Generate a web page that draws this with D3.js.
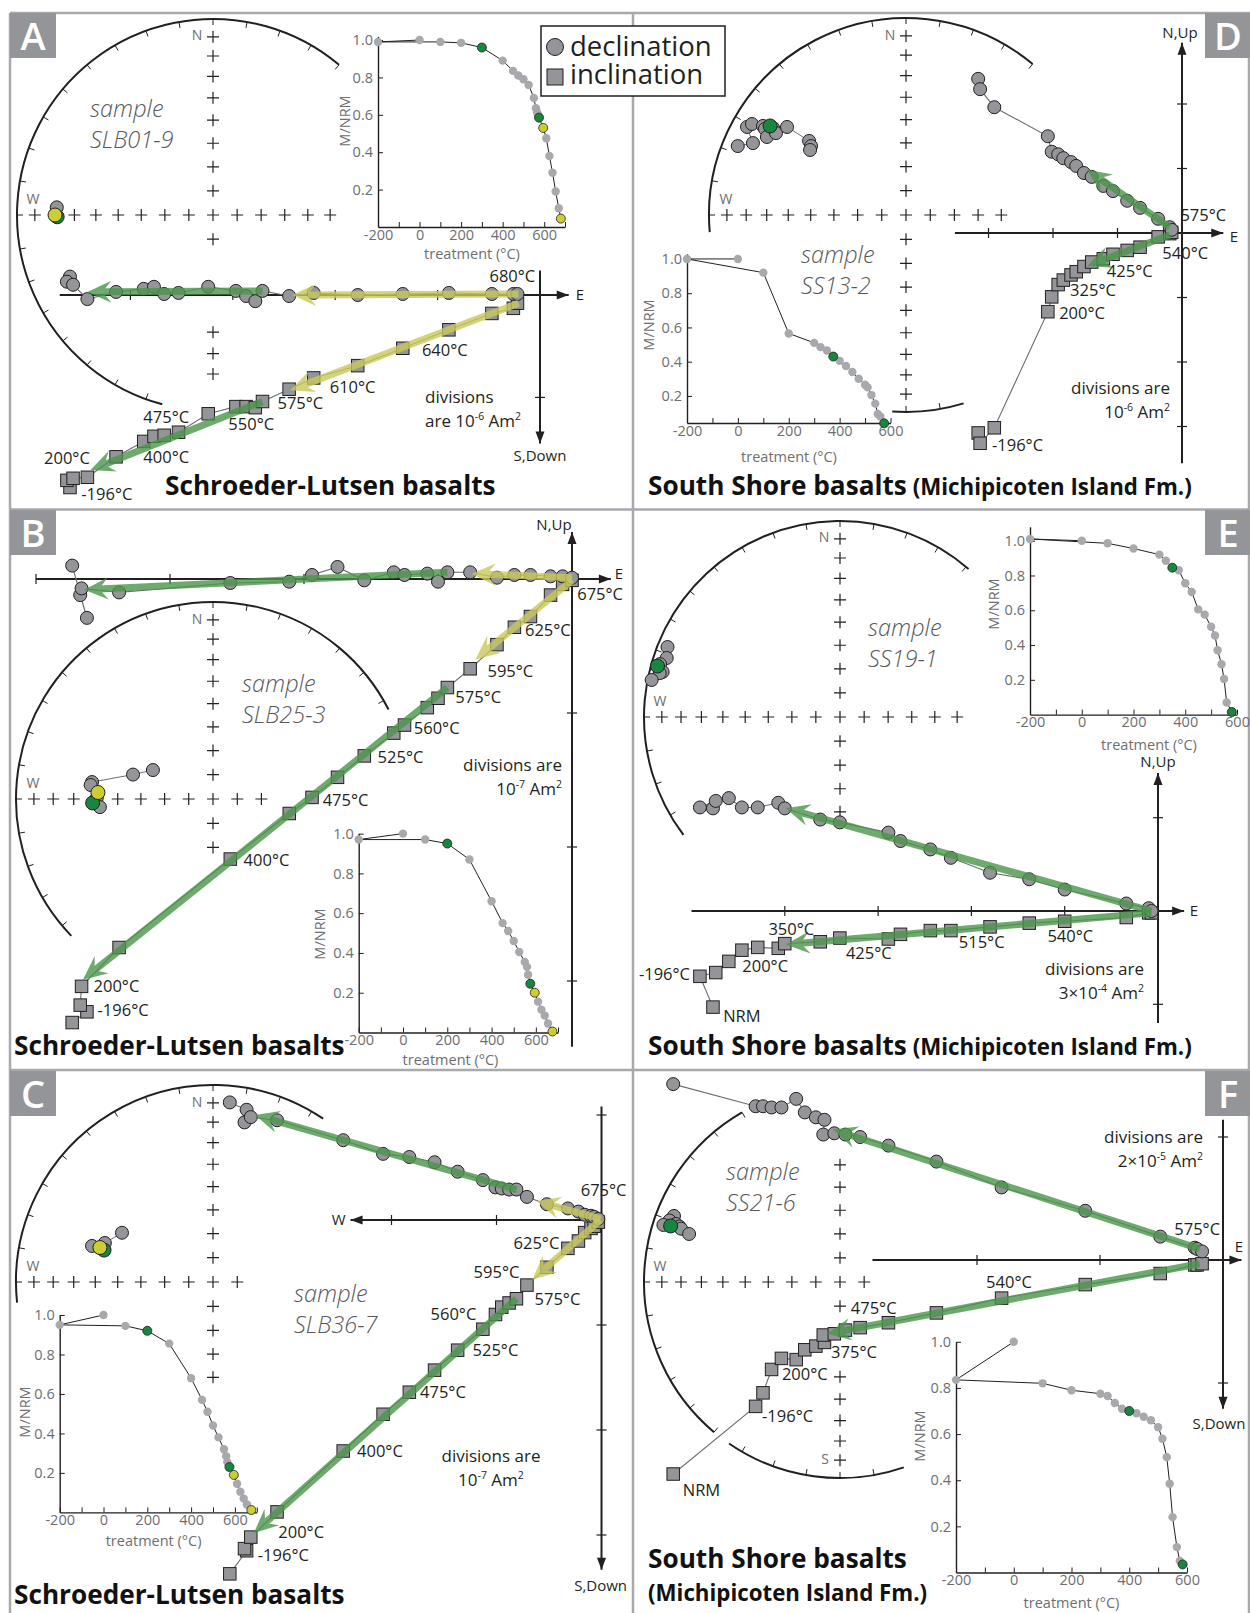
<!DOCTYPE html>
<html>
<head>
<meta charset="utf-8">
<script src="https://cdn.jsdelivr.net/npm/d3@7/dist/d3.min.js"></script>
<style>
  body { margin: 0; background: #fff; }
  svg { display: block; }
  text { font-family: "Open Sans", Lato, "DejaVu Sans", sans-serif; }
</style>
</head>
<body>
<svg id="fig" width="1250" height="1613"></svg>
<script>
// ---------- demagnetization curves (treatment °C, M/NRM) ----------
const iA_T = [0, -200, 100, 200, 300, 400, 450, 475, 500, 525, 550, 560, 565, 570, 575, 595, 610, 625, 640, 655, 670, 680];
const iA_M = [1.0, 0.99, 0.99, 0.985, 0.96, 0.89, 0.835, 0.81, 0.79, 0.76, 0.69, 0.635, 0.615, 0.6, 0.585, 0.53, 0.475, 0.38, 0.29, 0.19, 0.10, 0.045];
const iA_g = [300, 575], iA_y = [595, 680];

const iB_T = [0, -200, 100, 200, 300, 400, 450, 475, 500, 525, 550, 560, 565, 575, 595, 610, 625, 640, 655, 675];
const iB_M = [1.0, 0.97, 0.97, 0.95, 0.87, 0.66, 0.55, 0.51, 0.46, 0.405, 0.355, 0.33, 0.29, 0.245, 0.20, 0.155, 0.115, 0.085, 0.045, 0.005];
const iB_g = [200, 575], iB_y = [595, 675];

const iC_T = [0, -200, 100, 200, 300, 400, 450, 475, 500, 525, 550, 560, 565, 575, 595, 610, 625, 640, 655, 675];
const iC_M = [1.0, 0.95, 0.945, 0.92, 0.855, 0.68, 0.57, 0.51, 0.44, 0.38, 0.32, 0.285, 0.255, 0.23, 0.19, 0.145, 0.105, 0.07, 0.04, 0.012];
const iC_g = [200, 575], iC_y = [595, 675];

const iD_T = [0, -200, 100, 200, 300, 325, 350, 375, 400, 425, 450, 475, 500, 510, 525, 540, 550, 560, 575];
const iD_M = [1.0, 1.0, 0.92, 0.565, 0.51, 0.485, 0.465, 0.43, 0.405, 0.375, 0.34, 0.30, 0.265, 0.25, 0.205, 0.155, 0.095, 0.08, 0.04];
const iD_g = [375, 575], iD_y = [];

const iE_T = [0, -200, 100, 200, 300, 325, 350, 375, 400, 425, 450, 475, 500, 515, 525, 540, 550, 560, 580];
const iE_M = [1.0, 1.01, 0.985, 0.955, 0.92, 0.885, 0.845, 0.83, 0.755, 0.705, 0.605, 0.575, 0.505, 0.455, 0.37, 0.29, 0.205, 0.07, 0.015];
const iE_g = [350, 580], iE_y = [];

const iF_T = [0, -200, 100, 200, 300, 325, 350, 375, 400, 425, 450, 475, 500, 515, 530, 540, 550, 565, 575, 585];
const iF_M = [1.0, 0.835, 0.82, 0.79, 0.775, 0.765, 0.735, 0.71, 0.70, 0.69, 0.675, 0.66, 0.63, 0.58, 0.50, 0.385, 0.24, 0.11, 0.05, 0.035];
const iF_g = [400, 585], iF_y = [];

// ---------- orthogonal vector components (in divisions): east, north, down ----------
const zA_e = [-4.59, -4.62, -4.56, -4.42, -4.14, -3.87, -3.77, -3.67, -3.53, -3.24, -2.97, -2.87, -2.78, -2.71, -2.45, -2.21, -1.78, -1.34, -0.89, -0.47, -0.26, -0.22];
const zA_n = [0.18, 0.13, 0.10, -0.04, 0.03, 0.06, 0.08, 0.01, 0.02, 0.08, 0.04, -0.01, -0.06, 0.04, -0.01, 0.02, 0.00, 0.01, 0.02, 0.01, 0.01, 0.01];
const zA_d = [1.88, 1.81, 1.79, 1.78, 1.58, 1.43, 1.38, 1.37, 1.34, 1.16, 1.09, 1.09, 1.10, 1.04, 0.92, 0.81, 0.69, 0.52, 0.34, 0.18, 0.13, 0.08];

const zB_e = [-3.73, -3.62, -3.67, -3.66, -3.38, -2.55, -2.11, -1.94, -1.75, -1.55, -1.33, -1.25, -1.08, -1.00, -0.93, -0.76, -0.56, -0.43, -0.31, -0.16, -0.07, 0.00];
const zB_n = [0.10, -0.29, -0.12, -0.07, -0.10, -0.03, -0.02, 0.03, 0.09, -0.01, 0.05, 0.03, 0.04, -0.02, 0.05, 0.05, 0.01, 0.03, 0.03, 0.02, 0.02, 0.01];
const zB_d = [3.31, 3.23, 3.18, 3.04, 2.75, 2.09, 1.75, 1.63, 1.48, 1.32, 1.15, 1.09, 0.96, 0.89, 0.81, 0.67, 0.49, 0.36, 0.28, 0.12, 0.04, 0.01];

const zC_e = [-3.54, -3.38, -3.40, -3.34, -3.09, -2.46, -2.08, -1.83, -1.59, -1.37, -1.13, -1.01, -0.95, -0.88, -0.81, -0.71, -0.52, -0.32, -0.22, -0.16, -0.10, -0.07, -0.03];
const zC_n = [1.12, 1.05, 0.93, 0.98, 0.95, 0.76, 0.63, 0.60, 0.55, 0.46, 0.38, 0.31, 0.30, 0.29, 0.29, 0.22, 0.15, 0.11, 0.08, 0.05, 0.04, 0.03, 0.01];
const zC_d = [3.37, 3.15, 3.13, 3.02, 2.78, 2.20, 1.85, 1.64, 1.43, 1.24, 1.04, 0.90, 0.83, 0.79, 0.75, 0.62, 0.45, 0.27, 0.20, 0.12, 0.08, 0.06, 0.02];

const zD_e = [-3.16, -3.13, -2.91, -2.08, -2.02, -1.92, -1.84, -1.72, -1.64, -1.52, -1.40, -1.22, -1.07, -0.85, -0.65, -0.37, -0.19, -0.16];
const zD_n = [2.39, 2.23, 1.95, 1.50, 1.26, 1.22, 1.16, 1.10, 1.04, 0.93, 0.87, 0.73, 0.65, 0.50, 0.39, 0.22, 0.09, 0.05];
const zD_d = [3.10, 3.26, 3.02, 1.22, 0.99, 0.80, 0.73, 0.65, 0.60, 0.52, 0.45, 0.40, 0.33, 0.27, 0.22, 0.06, 0.01, -0.01];

const zE_e = [-4.77, -4.91, -4.74, -4.60, -4.46, -4.29, -4.07, -4.00, -3.62, -3.41, -2.89, -2.76, -2.44, -2.22, -1.80, -1.38, -1.00, -0.34, -0.10, -0.07];
const zE_n = [1.10, 1.11, 1.18, 1.21, 1.11, 1.11, 1.16, 1.10, 0.98, 0.95, 0.84, 0.75, 0.66, 0.57, 0.41, 0.34, 0.23, 0.08, 0.03, 0.00];
const zE_d = [1.03, 0.70, 0.66, 0.54, 0.42, 0.39, 0.40, 0.35, 0.33, 0.29, 0.30, 0.25, 0.21, 0.21, 0.17, 0.13, 0.11, 0.07, 0.02, 0.02];

const zF_e = [-4.47, -3.80, -3.74, -3.67, -3.59, -3.47, -3.40, -3.31, -3.24, -3.25, -3.16, -3.07, -2.95, -2.72, -2.33, -1.80, -1.12, -0.51, -0.23, -0.21, -0.17];
const zF_n = [1.43, 1.25, 1.25, 1.24, 1.24, 1.31, 1.20, 1.16, 1.14, 1.02, 1.03, 1.02, 1.00, 0.93, 0.80, 0.59, 0.40, 0.19, 0.10, 0.09, 0.07];
const zF_d = [1.74, 1.19, 1.08, 0.89, 0.80, 0.81, 0.73, 0.70, 0.67, 0.61, 0.60, 0.57, 0.55, 0.51, 0.43, 0.31, 0.20, 0.11, 0.04, 0.04, 0.03];

// ---------- fitted components: colour, projection, from (E, N|D), to (E, N|D) ----------
const fA = [["y", "h", -0.21, 0.01, -2.42, 0.00], ["g", "h", -2.71, 0.04, -4.42, 0.03], ["y", "v", -0.21, 0.08, -2.44, 0.93], ["g", "v", -2.71, 1.04, -4.39, 1.71]];
const fB = [["y", "h", 0.00, 0.01, -0.75, 0.04], ["g", "h", -0.93, 0.05, -3.64, -0.08], ["y", "v", 0.00, 0.01, -0.72, 0.60], ["g", "v", -0.93, 0.81, -3.65, 2.99]];
const fC = [["y", "h", -0.01, 0.01, -0.62, 0.18], ["g", "h", -0.81, 0.29, -3.30, 1.00], ["y", "v", -0.01, 0.00, -0.66, 0.57], ["g", "v", -0.81, 0.75, -3.31, 2.98]];
const fD = [["g", "h", -0.19, 0.09, -1.47, 0.98], ["g", "v", -0.19, 0.03, -1.47, 0.51]];
const fE = [["g", "h", -0.07, 0.00, -3.99, 1.10], ["g", "v", -0.07, 0.02, -3.99, 0.36]];
const fF = [["g", "h", -0.19, 0.09, -3.17, 1.06], ["g", "v", -0.19, 0.03, -3.22, 0.60]];

// ---------- equal-area directions (east, north on unit net), colour ----------
const sA_e = [-0.797, -0.795, -0.806], sA_n = [0.039, -0.009, 0.0], sA_c = ["k", "g", "y"];
const sB_e = [-0.305, -0.406, -0.614, -0.621, -0.590, -0.574, -0.611, -0.584];
const sB_n = [0.147, 0.124, 0.086, 0.071, 0.005, -0.041, -0.020, 0.033];
const sB_c = ["k", "k", "k", "k", "k", "k", "g", "y"];
const sC_e = [-0.462, -0.549, -0.614, -0.553, -0.574], sC_n = [0.250, 0.198, 0.183, 0.162, 0.175], sC_c = ["k", "k", "k", "g", "y"];
const sD_e = [-0.854, -0.777, -0.807, -0.782, -0.726, -0.716, -0.706, -0.675, -0.660, -0.690, -0.604, -0.492, -0.482, -0.487];
const sD_n = [0.350, 0.365, 0.447, 0.462, 0.452, 0.437, 0.396, 0.442, 0.416, 0.452, 0.447, 0.376, 0.350, 0.330];
const sD_c = ["k", "k", "k", "k", "k", "k", "k", "k", "k", "g", "k", "k", "k", "k"];
const sE_e = [-0.880, -0.884, -0.918, -0.905, -0.920, -0.961, -0.931], sE_n = [0.357, 0.301, 0.270, 0.230, 0.224, 0.189, 0.260];
const sE_c = ["k", "k", "k", "k", "k", "k", "g"];
const sF_e = [-0.847, -0.870, -0.901, -0.837, -0.820, -0.811, -0.770, -0.864], sF_n = [0.337, 0.314, 0.291, 0.296, 0.283, 0.272, 0.245, 0.286];
const sF_c = ["k", "k", "k", "k", "k", "k", "k", "g"];

// ---------- layout ----------
const all10 = [10, 20, 30, 40, 50, 60, 70, 80];
const ncA = {cx: 213, cy: 215, r: 196, arcs: [[195, 400]], n: all10, s: [80, 40, 30, 20], w: all10, e: [80, 70, 60, 50, 40], N: true};
const ncB = {cx: 213, cy: 799, r: 197, arcs: [[226, 423]], n: all10, s: [80, 70], w: all10, e: [80, 70], N: true};
const ncC = {cx: 213, cy: 1282, r: 197, arcs: [[264, 394]], n: all10, s: [80, 70, 60, 50], w: all10, e: [80], N: true};
const ncD = {cx: 906, cy: 215, r: 197, arcs: [[265, 400], [163, 184]], n: all10, s: all10, w: all10, e: [80, 70, 60, 50], N: true};
const ncE = {cx: 840, cy: 717, r: 196, arcs: [[233, 401]], n: all10, s: [80, 70, 60, 50], w: all10, e: [80, 70, 60, 50, 40], N: true};
const ncF = {cx: 840, cy: 1282, r: 196, arcs: [[220, 330], [161, 214.5]], n: [40, 50, 60, 70, 80], s: [80, 50, 40, 30, 20, 10], w: all10, e: [80], N: false, S: true};

const zcA = {ox: 540, oy: 295, u: 102.4, h: [-4.69, 0.28], ha: "r", v: [0.24, 1.45], va: "d", ht: [-4, -3, -2, -1], tn: [], td: [1], lab: [["E", 580, 295], ["S,Down", 540, 456]]};
const zcB = {ox: 572, oy: 579, u: 134, h: [-4.0, 0.29], ha: "r", v: [0.35, 3.49], va: "u", ht: [-4, -3, -2, -1], tn: [], td: [1, 2, 3], lab: [["N,Up", 554, 525], ["E", 619, 574]]};
const zcC = {ox: 601.5, oy: 1220, u: 105, h: [-2.39, 0.01], ha: "l", v: [1.08, 3.33], va: "d", ht: [-2, -1], tn: [1], td: [1, 2, 3], lab: [["W", 338.6, 1220], ["S,Down", 600.6, 1586]]};
const zcD = {ox: 1182, oy: 233, u: 64.5, h: [-3.52, 0.64], ha: "r", v: [2.95, 3.57], va: "u", ht: [-3, -2, -1], tn: [1, 2], td: [1, 2, 3], lab: [["N,Up", 1180, 33], ["E", 1234, 237]]};
const zcE = {ox: 1158, oy: 911, u: 93.3, h: [-5.0, 0.28], ha: "r", v: [1.48, 1.20], va: "u", ht: [-4, -3, -2, -1], tn: [1], td: [1], lab: [["N,Up", 1158, 762], ["E", 1194, 911]]};
const zcF = {ox: 1223, oy: 1260, u: 123, h: [-2.85, 0.15], ha: "r", v: [1.14, 1.21], va: "d", ht: [-2, -1], tn: [1], td: [1], lab: [["E", 1239, 1247], ["S,Down", 1219, 1424]]};

// temperature annotations, placed in division units (E, down)
const lA = [["680°C", -0.27, -0.18], ["640°C", -0.93, 0.54], ["610°C", -1.83, 0.90], ["575°C", -2.34, 1.06], ["550°C", -2.82, 1.26], ["475°C", -3.65, 1.19], ["400°C", -3.65, 1.58], ["200°C", -4.62, 1.59], ["-196°C", -4.23, 1.95]];
const lB = [["675°C", 0.21, 0.11], ["625°C", -0.18, 0.38], ["595°C", -0.46, 0.69], ["575°C", -0.70, 0.88], ["560°C", -1.01, 1.11], ["525°C", -1.28, 1.33], ["475°C", -1.69, 1.65], ["400°C", -2.28, 2.10], ["200°C", -3.40, 3.04], ["-196°C", -3.35, 3.22]];
const lC = [["675°C", 0.02, -0.28], ["625°C", -0.62, 0.22], ["595°C", -1.00, 0.50], ["575°C", -0.42, 0.75], ["560°C", -1.41, 0.90], ["525°C", -1.01, 1.24], ["475°C", -1.51, 1.64], ["400°C", -2.11, 2.20], ["200°C", -2.86, 2.97], ["-196°C", -3.03, 3.19]];
const lD = [["575°C", 0.33, -0.27], ["540°C", 0.05, 0.31], ["425°C", -0.81, 0.60], ["325°C", -1.38, 0.89], ["200°C", -1.55, 1.25], ["-196°C", -2.55, 3.29]];
const lE = [["350°C", -3.93, 0.20], ["200°C", -4.21, 0.59], ["-196°C", -5.29, 0.68], ["NRM", -4.46, 1.13], ["425°C", -3.10, 0.45], ["515°C", -1.89, 0.33], ["540°C", -0.94, 0.27]];
const lF = [["575°C", -0.21, -0.25], ["540°C", -1.74, 0.18], ["475°C", -2.84, 0.39], ["375°C", -3.00, 0.75], ["200°C", -3.40, 0.93], ["-196°C", -3.54, 1.27], ["NRM", -4.24, 1.87]];

const icA = {xd: [-200, 700], xr: [378, 565], yd: [0, 1.02], yr: [227, 36.3], yl: [345, 121], xl: [472, 259]};
const icB = {xd: [-200, 700], xr: [358.7, 558], yd: [0, 1], yr: [1032.5, 833.6], yl: [320, 934], xl: [450.5, 1064.5]};
const icC = {xd: [-200, 700], xr: [59.7, 256.8], yd: [0, 1], yr: [1512.4, 1315], yl: [25, 1412], xl: [153.6, 1546]};
const icD = {xd: [-200, 600], xr: [687, 890.5], yd: [0.042, 1.03], yr: [423, 253.8], yl: [649, 325], xl: [789, 461.5]};
const icE = {xd: [-200, 600], xr: [1030, 1237], yd: [0, 1.08], yr: [714.6, 526.8], yl: [994, 604], xl: [1149, 749.5]};
const icF = {xd: [-200, 600], xr: [956, 1187], yd: [0, 1], yr: [1572.5, 1341.8], yl: [920, 1436], xl: [1071.5, 1608]};

const svg = d3.select("#fig");
const INK = "#231f20", GREY = "#939598", LIGHT = "#a7a9ac", MID = "#6d6e71";
const GREEN = "#17873f", YEL = "#cccc33";
const FIT = {g: "#4b964b", y: "#c9c95a"};
const PT = {k: GREY, g: GREEN, y: YEL};
const rad = d => d * Math.PI / 180;
const eqA = inc => Math.SQRT2 * Math.sin(rad((90 - inc) / 2));

// ---------- frame and panel letters ----------
[[10, 13, 1250, 13], [10, 509.5, 1250, 509.5], [10, 1070, 1250, 1070], [10, 13, 10, 1613], [633, 13, 633, 1613], [1249, 13, 1249, 1613]]
  .forEach(l => svg.append("line").attr("x1", l[0]).attr("y1", l[1]).attr("x2", l[2]).attr("y2", l[3])
    .attr("stroke", LIGHT).attr("stroke-width", 2.5));
[["A", 10, 13], ["B", 10, 510], ["C", 10, 1071], ["D", 1205, 13], ["E", 1205, 510], ["F", 1205, 1071]].forEach(p => {
  svg.append("rect").attr("x", p[1]).attr("y", p[2]).attr("width", 46).attr("height", 45).attr("fill", GREY);
  svg.append("text").attr("x", p[1] + 23).attr("y", p[2] + 37).attr("text-anchor", "middle")
    .attr("font-size", 38).attr("font-weight", 600).attr("fill", "#fff").text(p[0]);
});

function drawNet(S, E, N, C, joined) {
  const g = svg.append("g");
  const x = d3.scaleLinear().domain([-1, 1]).range([S.cx - S.r, S.cx + S.r]);
  const y = d3.scaleLinear().domain([-1, 1]).range([S.cy + S.r, S.cy - S.r]);
  S.arcs.forEach(([b0, b1]) => {
    const p = d3.path();
    p.moveTo(S.cx + S.r * Math.sin(rad(b0)), S.cy - S.r * Math.cos(rad(b0)));
    p.arc(S.cx, S.cy, S.r, rad(b0 - 90), rad(b1 - 90));
    g.append("path").attr("d", p.toString()).attr("fill", "none").attr("stroke", INK).attr("stroke-width", 2);
    for (let b = Math.ceil(b0 / 10) * 10; b <= b1; b += 10) {
      const s = Math.sin(rad(b)), c = Math.cos(rad(b));
      g.append("line").attr("x1", S.cx + S.r * s).attr("y1", S.cy - S.r * c)
        .attr("x2", S.cx + (S.r - 6) * s).attr("y2", S.cy - (S.r - 6) * c)
        .attr("stroke", INK).attr("stroke-width", 1);
    }
  });
  const cr = [[0, 0]];
  S.n.forEach(i => cr.push([0, eqA(i)]));
  S.s.forEach(i => cr.push([0, -eqA(i)]));
  S.w.forEach(i => cr.push([-eqA(i), 0]));
  S.e.forEach(i => cr.push([eqA(i), 0]));
  cr.forEach(([a, b]) => {
    const px = x(a), py = y(b);
    g.append("path").attr("d", `M${px - 6},${py}H${px + 6}M${px},${py - 6}V${py + 6}`)
      .attr("stroke", INK).attr("stroke-width", 1.2);
  });
  const lab = (t, px, py) => g.append("text").attr("x", px).attr("y", py).attr("dy", "0.35em")
    .attr("text-anchor", "middle").attr("font-size", 14).attr("fill", MID).text(t);
  if (S.N) lab("N", S.cx - 16, S.cy - 180);
  if (S.S) lab("S", S.cx - 15, S.cy + 177);
  lab("W", S.cx - 180, S.cy - 16);
  if (joined) {
    g.append("path").attr("d", d3.line()(E.map((e, i) => [x(e), y(N[i])])))
      .attr("fill", "none").attr("stroke", MID).attr("stroke-width", 1);
  }
  const idx = d3.range(E.length).sort((a, b) => "kgy".indexOf(C[a]) - "kgy".indexOf(C[b]));
  g.selectAll(".sp").data(idx).join("circle")
    .attr("cx", i => x(E[i])).attr("cy", i => y(N[i])).attr("r", i => C[i] === "k" ? 6.5 : 7)
    .attr("fill", i => PT[C[i]]).attr("stroke", INK).attr("stroke-width", 1);
}

function arrowTip(g, px, py, ang, len, hw, fill) {
  const c = Math.cos(ang), s = Math.sin(ang);
  const bx = px - len * c, by = py - len * s;
  g.append("path").attr("d", `M${px},${py}L${bx - hw * s},${by + hw * c}L${bx + hw * s},${by - hw * c}Z`).attr("fill", fill);
}

function drawZij(Z, E, N, D, fits, labs) {
  const g = svg.append("g");
  const x = d3.scaleLinear().domain([0, 1]).range([Z.ox, Z.ox + Z.u]);
  const yN = d3.scaleLinear().domain([0, 1]).range([Z.oy, Z.oy - Z.u]);
  const yD = d3.scaleLinear().domain([0, 1]).range([Z.oy, Z.oy + Z.u]);
  const ax = g.append("g").attr("stroke", INK).attr("stroke-width", 2);
  ax.append("line").attr("x1", x(Z.h[0])).attr("x2", x(Z.h[1])).attr("y1", Z.oy).attr("y2", Z.oy);
  ax.append("line").attr("x1", Z.ox).attr("x2", Z.ox).attr("y1", yN(Z.v[0])).attr("y2", yD(Z.v[1]));
  if (Z.ha === "r") arrowTip(g, x(Z.h[1]), Z.oy, 0, 12, 4.5, INK); else arrowTip(g, x(Z.h[0]), Z.oy, Math.PI, 12, 4.5, INK);
  if (Z.va === "u") arrowTip(g, Z.ox, yN(Z.v[0]), -Math.PI / 2, 12, 4.5, INK); else arrowTip(g, Z.ox, yD(Z.v[1]), Math.PI / 2, 12, 4.5, INK);
  const tk = g.append("g").attr("stroke", INK).attr("stroke-width", 1.2);
  Z.ht.forEach(e => tk.append("line").attr("x1", x(e)).attr("x2", x(e)).attr("y1", Z.oy - 5).attr("y2", Z.oy + 5));
  Z.tn.forEach(n => tk.append("line").attr("x1", Z.ox - 5).attr("x2", Z.ox + 5).attr("y1", yN(n)).attr("y2", yN(n)));
  Z.td.forEach(d => tk.append("line").attr("x1", Z.ox - 5).attr("x2", Z.ox + 5).attr("y1", yD(d)).attr("y2", yD(d)));
  Z.lab.forEach(l => g.append("text").attr("x", l[1]).attr("y", l[2]).attr("dy", "0.35em")
    .attr("text-anchor", "middle").attr("font-size", 15).attr("fill", INK).text(l[0]));

  const line = d3.line();
  g.append("path").attr("d", line(E.map((e, i) => [x(e), yD(D[i])])))
    .attr("fill", "none").attr("stroke", MID).attr("stroke-width", 1.1);
  g.append("path").attr("d", line(E.map((e, i) => [x(e), yN(N[i])])))
    .attr("fill", "none").attr("stroke", MID).attr("stroke-width", 1.1);
  g.selectAll(".sq").data(E).join("rect")
    .attr("x", (e) => x(e) - 6.25).attr("y", (e, i) => yD(D[i]) - 6.25).attr("width", 12.5).attr("height", 12.5)
    .attr("fill", GREY).attr("stroke", INK).attr("stroke-width", 1);
  g.selectAll(".ci").data(E).join("circle")
    .attr("cx", e => x(e)).attr("cy", (e, i) => yN(N[i])).attr("r", 6.5)
    .attr("fill", GREY).attr("stroke", INK).attr("stroke-width", 1);

  fits.forEach(f => {
    const yy = f[1] === "h" ? yN : yD;
    const x0 = x(f[2]), y0 = yy(f[3]), x1 = x(f[4]), y1 = yy(f[5]);
    const a = Math.atan2(y1 - y0, x1 - x0), c = Math.cos(a), s = Math.sin(a);
    const L = 24, W = 11, nb = 15;
    const gg = g.append("g").attr("opacity", 0.8);
    gg.append("line").attr("x1", x0).attr("y1", y0).attr("x2", x1 - nb * c).attr("y2", y1 - nb * s)
      .attr("stroke", FIT[f[0]]).attr("stroke-width", 7);
    const bx = x1 - L * c, by = y1 - L * s;
    gg.append("path").attr("d", `M${x1},${y1}L${bx - W * s},${by + W * c}L${x1 - nb * c},${y1 - nb * s}L${bx + W * s},${by - W * c}Z`)
      .attr("fill", FIT[f[0]]);
  });
  labs.forEach(l => g.append("text").attr("x", x(l[1])).attr("y", yD(l[2])).attr("dy", "0.35em")
    .attr("text-anchor", "middle").attr("font-size", 16.5).attr("fill", INK).text(l[0]));
}

function drawInset(I, T, M, gr, ye) {
  const g = svg.append("g");
  const x = d3.scaleLinear().domain(I.xd).range(I.xr);
  const y = d3.scaleLinear().domain(I.yd).range(I.yr);
  const xa = g.append("g").attr("transform", `translate(0,${I.yr[0]})`)
    .call(d3.axisBottom(x).tickValues(d3.range(I.xd[0], I.xd[1] + 1, 100))
      .tickFormat(d => d % 200 === 0 ? d : "").tickSizeInner(-5).tickSizeOuter(0).tickPadding(2.5));
  const ya = g.append("g").attr("transform", `translate(${I.xr[0]},0)`)
    .call(d3.axisLeft(y).tickValues([0.2, 0.4, 0.6, 0.8, 1.0]).tickFormat(d3.format(".1f"))
      .tickSizeInner(-5).tickSizeOuter(0).tickPadding(5));
  [xa, ya].forEach(a => {
    a.attr("font-family", null).attr("font-size", 14.5);
    a.select(".domain").attr("stroke", INK).attr("stroke-width", 1.4);
    a.selectAll(".tick line").attr("stroke", INK);
    a.selectAll(".tick text").attr("fill", MID);
  });
  g.append("text").attr("transform", `translate(${I.yl[0]},${I.yl[1]}) rotate(-90)`).attr("dy", "0.35em")
    .attr("text-anchor", "middle").attr("font-size", 14.5).attr("fill", MID).text("M/NRM");
  g.append("text").attr("x", I.xl[0]).attr("y", I.xl[1]).attr("text-anchor", "middle")
    .attr("font-size", 14.5).attr("fill", MID).text("treatment (°C)");
  g.append("path").attr("d", d3.line()(T.map((t, i) => [x(t), y(M[i])])))
    .attr("fill", "none").attr("stroke", INK).attr("stroke-width", 1);
  const col = t => gr.includes(t) ? GREEN : ye.includes(t) ? YEL : null;
  const idx = d3.range(T.length).sort((a, b) => (col(T[a]) ? 1 : 0) - (col(T[b]) ? 1 : 0));
  g.selectAll(".ip").data(idx).join("circle")
    .attr("cx", i => x(T[i])).attr("cy", i => y(M[i])).attr("r", i => col(T[i]) ? 4.5 : 4.2)
    .attr("fill", i => col(T[i]) || LIGHT)
    .attr("stroke", i => col(T[i]) ? INK : "none").attr("stroke-width", 0.8);
}

function sampleText(x, y, name) {
  const t = svg.append("text").attr("x", x).attr("y", y).attr("font-size", 23.5).attr("font-style", "italic")
    .attr("font-weight", 300).attr("fill", "#58595b");
  t.append("tspan").attr("x", x).text("sample");
  t.append("tspan").attr("x", x).attr("dy", 31).text(name);
}

function divText(x, y, anchor, l1, pre, exp) {
  const g = svg.append("g").attr("font-size", 17).attr("fill", INK).attr("text-anchor", anchor);
  g.append("text").attr("x", x).attr("y", y).attr("dy", "0.35em").text(l1);
  const t = g.append("text").attr("x", x).attr("y", y + 24).attr("dy", "0.35em");
  t.append("tspan").text(pre);
  t.append("tspan").attr("font-size", 10.5).attr("dy", -7).text(exp);
  t.append("tspan").attr("dy", 7).text(" Am");
  t.append("tspan").attr("font-size", 10.5).attr("dy", -7).text("2");
}

function title(x, y, main, sub, twoLines) {
  const t = svg.append("text").attr("x", x).attr("y", y).attr("font-size", 26.2).attr("font-weight", 700).attr("fill", "#111").text(main);
  if (sub && !twoLines) t.append("tspan").attr("font-size", 22.3).text(" " + sub);
  if (sub && twoLines) svg.append("text").attr("x", x).attr("y", y + 33).attr("font-size", 22.3)
    .attr("font-weight", 700).attr("fill", "#111").text(sub);
}

// ---------- panels ----------
drawNet(ncA, sA_e, sA_n, sA_c, false);
drawNet(ncB, sB_e, sB_n, sB_c, true);
drawNet(ncC, sC_e, sC_n, sC_c, true);
drawNet(ncD, sD_e, sD_n, sD_c, true);
drawNet(ncE, sE_e, sE_n, sE_c, false);
drawNet(ncF, sF_e, sF_n, sF_c, false);

drawInset(icA, iA_T, iA_M, iA_g, iA_y);
drawInset(icB, iB_T, iB_M, iB_g, iB_y);
drawInset(icC, iC_T, iC_M, iC_g, iC_y);
drawInset(icD, iD_T, iD_M, iD_g, iD_y);
drawInset(icE, iE_T, iE_M, iE_g, iE_y);
drawInset(icF, iF_T, iF_M, iF_g, iF_y);

drawZij(zcA, zA_e, zA_n, zA_d, fA, lA);
drawZij(zcB, zB_e, zB_n, zB_d, fB, lB);
drawZij(zcC, zC_e, zC_n, zC_d, fC, lC);
drawZij(zcD, zD_e, zD_n, zD_d, fD, lD);
drawZij(zcE, zE_e, zE_n, zE_d, fE, lE);
drawZij(zcF, zF_e, zF_n, zF_d, fF, lF);

sampleText(90, 117, "SLB01-9");
sampleText(242, 692, "SLB25-3");
sampleText(294, 1302, "SLB36-7");
sampleText(801, 263, "SS13-2");
sampleText(868, 636, "SS19-1");
sampleText(726, 1180, "SS21-6");

divText(425, 397, "start", "divisions", "are 10", "-6");
divText(562, 765, "end", "divisions are", "10", "-7");
divText(491, 1456, "middle", "divisions are", "10", "-7");
divText(1170, 388, "end", "divisions are", "10", "-6");
divText(1144, 969, "end", "divisions are", "3×10", "-4");
divText(1203, 1137, "end", "divisions are", "2×10", "-5");

title(165, 495, "Schroeder-Lutsen basalts");
title(14, 1055, "Schroeder-Lutsen basalts");
title(14, 1604, "Schroeder-Lutsen basalts");
title(648, 495, "South Shore basalts", "(Michipicoten Island Fm.)", false);
title(648, 1055, "South Shore basalts", "(Michipicoten Island Fm.)", false);
title(648, 1568, "South Shore basalts", "(Michipicoten Island Fm.)", true);

// ---------- legend ----------
const lg = svg.append("g");
lg.append("rect").attr("x", 541).attr("y", 26).attr("width", 184).attr("height", 70)
  .attr("fill", "#fff").attr("stroke", INK).attr("stroke-width", 1.5);
lg.append("circle").attr("cx", 555).attr("cy", 47).attr("r", 8.5).attr("fill", GREY).attr("stroke", INK);
lg.append("rect").attr("x", 547).attr("y", 69).attr("width", 16).attr("height", 16).attr("fill", GREY).attr("stroke", INK);
const lt = lg.append("text").attr("font-size", 27.5).attr("fill", INK);
lt.append("tspan").attr("x", 570).attr("y", 56).text("declination");
lt.append("tspan").attr("x", 570).attr("y", 84).text("inclination");
</script>
</body>
</html>
